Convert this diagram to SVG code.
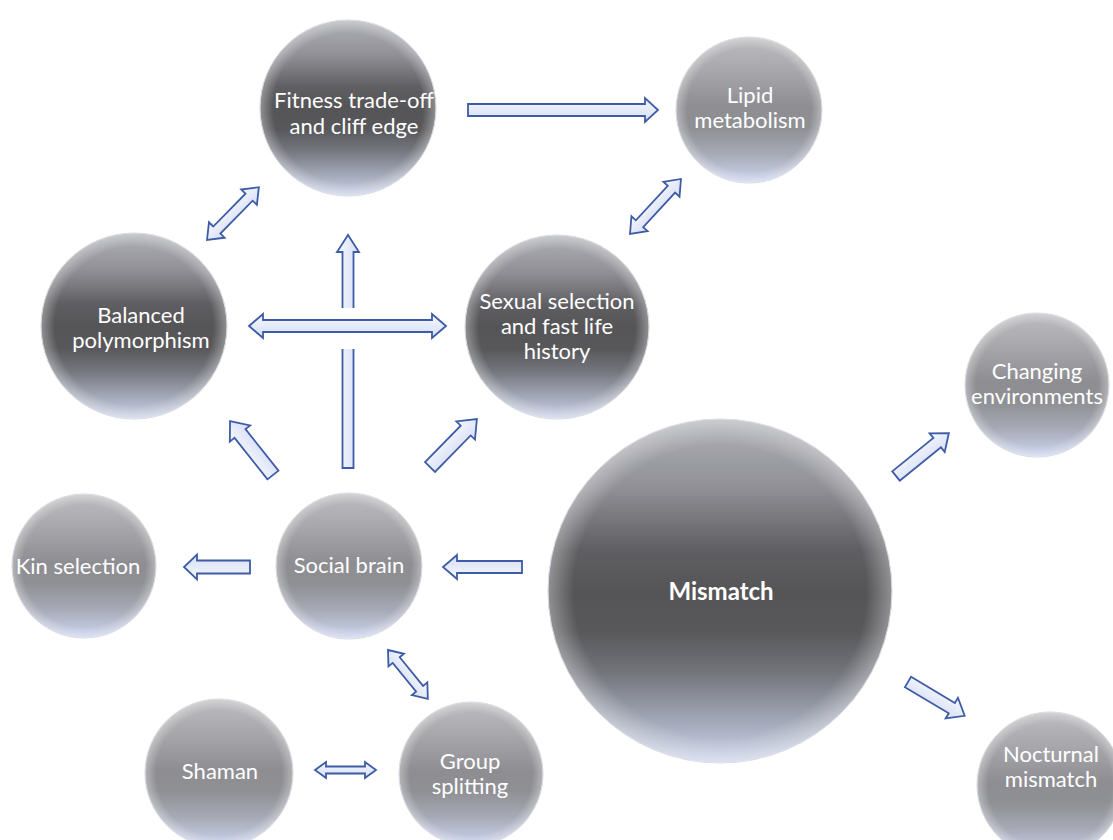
<svg xmlns="http://www.w3.org/2000/svg" width="1113" height="840" viewBox="0 0 1113 840">
<defs>
<linearGradient id="gDark" x1="0" y1="0" x2="0" y2="1">
<stop offset="0" stop-color="#b0b1b7"/>
<stop offset="0.2" stop-color="#909096"/>
<stop offset="0.38" stop-color="#5f5f63"/>
<stop offset="0.5" stop-color="#555557"/>
<stop offset="0.62" stop-color="#58585b"/>
<stop offset="0.74" stop-color="#74767d"/>
<stop offset="0.88" stop-color="#a4a9b8"/>
<stop offset="1" stop-color="#cbd3ea"/>
</linearGradient>
<linearGradient id="gLight" x1="0" y1="0" x2="0" y2="1">
<stop offset="0" stop-color="#bdbdc1"/>
<stop offset="0.25" stop-color="#a6a6aa"/>
<stop offset="0.48" stop-color="#8e8e92"/>
<stop offset="0.62" stop-color="#8f9094"/>
<stop offset="0.8" stop-color="#a7aab6"/>
<stop offset="1" stop-color="#cdd5f0"/>
</linearGradient>
<radialGradient id="gRim" cx="0.5" cy="0.5" r="0.5">
<stop offset="0.85" stop-color="#ffffff" stop-opacity="0"/>
<stop offset="1" stop-color="#ffffff" stop-opacity="0.35"/>
</radialGradient>
<linearGradient id="gArrow" x1="0" y1="0" x2="0" y2="1">
<stop offset="0" stop-color="#f6f8fe"/>
<stop offset="1" stop-color="#d6def4"/>
</linearGradient>
<style>
.dark{fill:url(#gDark);stroke:#d4d7de;stroke-width:1}
.light{fill:url(#gLight);stroke:#d4d7de;stroke-width:1}
.rim{fill:url(#gRim)}
.lbl{font-family:Lato,"Open Sans","Liberation Sans",sans-serif;font-size:22px;fill:#ffffff;text-anchor:middle}
.big{font-size:24px;font-weight:bold}
.arr{fill:url(#gArrow);stroke:#3d5ba6;stroke-width:1.8;stroke-linejoin:miter}
</style>
</defs>
<rect width="1113" height="840" fill="#ffffff"/>

<g id="connectors">
<!-- Social -> Fitness vertical -->
<polygon class="arr" transform="translate(348,468) rotate(-90)" points="0,-5.5 216,-5.5 216,-11 233,0 216,11 216,5.5 0,5.5"/>
<rect x="339" y="308" width="18" height="41" fill="#ffffff"/>
<!-- Fitness -> Lipid -->
<polygon class="arr" transform="translate(468,110)" points="0,-6 177,-6 177,-12 190,0 177,12 177,6 0,6"/>
<!-- Balanced <-> Fitness -->
<polygon class="arr" transform="translate(207,240) rotate(-45.5)" points="0,0 14,-11 14,-5 60,-5 60,-11 74,0 60,11 60,5 14,5 14,11"/>
<!-- Sexual <-> Lipid -->
<polygon class="arr" transform="translate(630,234) rotate(-47.2)" points="0,0 14,-11 14,-5 61,-5 61,-11 75,0 61,11 61,5 14,5 14,11"/>
<!-- Balanced <-> Sexual -->
<polygon class="arr" transform="translate(249,326)" points="0,0 14,-12 14,-6 183,-6 183,-12 197,0 183,12 183,6 14,6 14,12"/>
<!-- Social -> Balanced -->
<polygon class="arr" transform="translate(273,475) rotate(-128.5)" points="0,-7 53,-7 53,-13 69,0 53,13 53,7 0,7"/>
<!-- Social -> Sexual -->
<polygon class="arr" transform="translate(430,467) rotate(-45.6)" points="0,-7 51,-7 51,-13 67,0 51,13 51,7 0,7"/>
<!-- Social -> Kin -->
<polygon class="arr" transform="translate(250,567) rotate(180)" points="0,-6.5 53,-6.5 53,-12.5 66,0 53,12.5 53,6.5 0,6.5"/>
<!-- Mismatch -> Social -->
<polygon class="arr" transform="translate(522,567) rotate(180)" points="0,-6 65,-6 65,-12 79,0 65,12 65,6 0,6"/>
<!-- Social <-> Group -->
<polygon class="arr" transform="translate(388,650) rotate(50.8)" points="0,0 13,-10 13,-4.5 50,-4.5 50,-10 63,0 50,10 50,4.5 13,4.5 13,10"/>
<!-- Shaman <-> Group -->
<polygon class="arr" transform="translate(315,770)" points="0,0 11,-8 11,-3.5 50,-3.5 50,-8 61,0 50,8 50,3.5 11,3.5 11,8"/>
<!-- Mismatch -> Changing -->
<polygon class="arr" transform="translate(896,476) rotate(-39)" points="0,-6 53,-6 53,-12 68,0 53,12 53,6 0,6"/>
<!-- Mismatch -> Nocturnal -->
<polygon class="arr" transform="translate(908,682) rotate(30.8)" points="0,-6 51,-6 51,-12 66,0 51,12 51,6 0,6"/>
</g>

<g id="fitness">
<circle class="dark" cx="348" cy="108" r="88"/>
<circle class="rim" cx="348" cy="108" r="88"/>
<text class="lbl" x="354" y="108">Fitness trade-off</text>
<text class="lbl" x="354" y="134">and cliff edge</text>
</g>
<g id="lipid">
<circle class="light" cx="749" cy="110" r="73"/>
<circle class="rim" cx="749" cy="110" r="73"/>
<text class="lbl" x="750" y="103">Lipid</text>
<text class="lbl" x="750" y="128">metabolism</text>
</g>
<g id="balanced">
<circle class="dark" cx="134" cy="326" r="93"/>
<circle class="rim" cx="134" cy="326" r="93"/>
<text class="lbl" x="141" y="323">Balanced</text>
<text class="lbl" x="141" y="348">polymorphism</text>
</g>
<g id="sexual">
<circle class="dark" cx="557" cy="327" r="92"/>
<circle class="rim" cx="557" cy="327" r="92"/>
<text class="lbl" x="557" y="309">Sexual selection</text>
<text class="lbl" x="557" y="334">and fast life</text>
<text class="lbl" x="557" y="359">history</text>
</g>
<g id="changing">
<circle class="light" cx="1037" cy="385" r="72"/>
<circle class="rim" cx="1037" cy="385" r="72"/>
<text class="lbl" x="1037" y="379">Changing</text>
<text class="lbl" x="1037" y="404">environments</text>
</g>
<g id="mismatch">
<circle class="dark" cx="720" cy="591" r="172"/>
<circle class="rim" cx="720" cy="591" r="172"/>
<text class="lbl big" x="721" y="600">Mismatch</text>
</g>
<g id="kin">
<circle class="light" cx="84" cy="566" r="72"/>
<circle class="rim" cx="84" cy="566" r="72"/>
<text class="lbl" x="78" y="574">Kin selection</text>
</g>
<g id="social">
<circle class="light" cx="349" cy="566" r="73"/>
<circle class="rim" cx="349" cy="566" r="73"/>
<text class="lbl" x="349" y="573">Social brain</text>
</g>
<g id="shaman">
<circle class="light" cx="219" cy="773" r="74"/>
<circle class="rim" cx="219" cy="773" r="74"/>
<text class="lbl" x="220" y="779">Shaman</text>
</g>
<g id="group">
<circle class="light" cx="471" cy="774" r="72"/>
<circle class="rim" cx="471" cy="774" r="72"/>
<text class="lbl" x="470" y="769">Group</text>
<text class="lbl" x="470" y="794">splitting</text>
</g>
<g id="nocturnal">
<circle class="light" cx="1050" cy="785" r="73"/>
<circle class="rim" cx="1050" cy="785" r="73"/>
<text class="lbl" x="1051" y="762">Nocturnal</text>
<text class="lbl" x="1051" y="787">mismatch</text>
</g>
</svg>
